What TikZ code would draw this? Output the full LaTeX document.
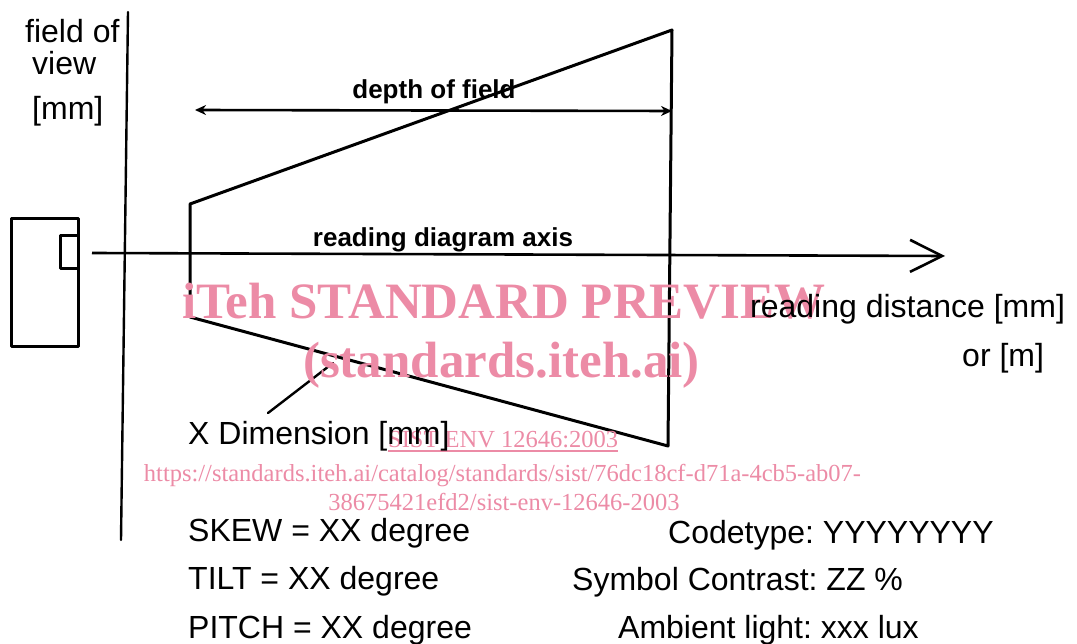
\documentclass[tikz,border=0pt]{standalone}
\usepackage{fontspec}
\setmainfont{Liberation Sans}
\newfontfamily\wmfont{Liberation Serif}
\usetikzlibrary{arrows.meta}
\definecolor{wmpink}{RGB}{236,139,166}
\frenchspacing
\begin{document}
\begin{tikzpicture}[x=1pt,y=-1pt,
  lbl/.style={inner sep=0pt, font=\fontsize{32}{32}\selectfont\frenchspacing, anchor=base west},
  blbl/.style={inner sep=0pt, font=\fontsize{26}{26}\selectfont\bfseries, anchor=base},
  wmbig/.style={inner sep=0pt, text=wmpink, font=\fontsize{51}{51}\selectfont\wmfont\bfseries, anchor=base},
  wmsmall/.style={inner sep=0pt, text=wmpink, font=\fontsize{24.5}{24.5}\selectfont\wmfont, anchor=base},
  outline/.style={line width=3pt, line join=round, line cap=round},
  thinline/.style={line width=2.4pt, line cap=round}
]
\useasboundingbox (0,0) rectangle (1077,644);

% coordinates
\coordinate (vtop) at (128,12);
\coordinate (vbot) at (121,540);
\coordinate (tl) at (190,204);
\coordinate (tr) at (672,30);
\coordinate (br) at (668,446);
\coordinate (bl) at (190,317);
\coordinate (axs) at (92,253);
\coordinate (axe) at (945,256);
\coordinate (dofl) at (195,110);
\coordinate (dofr) at (672,111);
\coordinate (ldA) at (268,413);
\coordinate (ldB) at (333,363);

% vertical field-of-view axis
\draw[thinline] (vtop) -- (vbot);

% scanner
\draw[outline] (11,219) rectangle (78,347);
\draw[outline] (60,236) rectangle (78,269);

% field of view trapezoid
\draw[outline] (tl) -- (tr) -- (br) -- (bl) -- cycle;

% reading axis
\draw[line width=2.6pt, -{Straight Barb[length=32pt,width=32pt,line width=2.6pt]}] (axs) -- (axe);

% depth of field arrow
\draw[line width=2.6pt, {Stealth[length=11pt,width=10pt]}-{Stealth[length=11pt,width=10pt]}] (dofl) -- (dofr);

% leader for X dimension
\draw[thinline] (ldA) -- (ldB);

% watermark
\node[wmbig] (wm1) at (504,319) {iTeh STANDARD PREVIEW};
\node[wmbig] (wm2) at (501.5,378) {(standards.iteh.ai)};
\node[wmsmall, anchor=base west] (sist) at (388,447) {SIST ENV 12646:2003};
\draw[wmpink, line width=1.2pt] ([yshift=-4pt]sist.base west) -- ([yshift=-4pt]sist.base east);
\node[wmsmall] (url1) at (502.5,481) {https://standards.iteh.ai/catalog/standards/sist/76dc18cf-d71a-4cb5-ab07-};
\node[wmsmall] (url2) at (504,510) {38675421efd2/sist-env-12646-2003};

% labels
\node[lbl] (fov1) at (25,43) {field of};
\node[lbl] (fov2) at (32,75) {view};
\node[lbl] (fov3) at (32,120) {[mm]};
\node[blbl] (dof) at (434,99) {depth of field};
\node[blbl] (rda) at (443,247) {reading diagram axis};
\node[lbl] (rd1) at (750,318) {reading distance [mm]};
\node[lbl] (rd2) at (962,367) {or [m]};
\node[lbl] (xdim) at (188,444) {X Dimension [mm]};

\node[lbl] (skew) at (188,541) {SKEW = XX degree};
\node[lbl] (tilt) at (188,589.5) {TILT = XX degree};
\node[lbl] (pitch) at (188,638) {PITCH = XX degree};
\node[lbl] (code) at (668,543) {Codetype: YYYYYYYY};
\node[lbl] (sym) at (572,590) {Symbol Contrast: ZZ \%};
\node[lbl] (amb) at (618,638.5) {Ambient light: xxx lux};
\end{tikzpicture}
\end{document}
